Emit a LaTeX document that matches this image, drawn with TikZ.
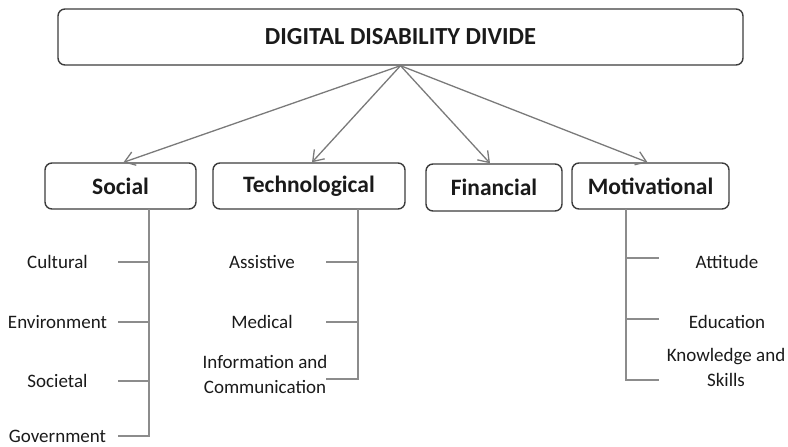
\documentclass[tikz,border=0pt]{standalone}
\usepackage{fontspec}
\setmainfont{Carlito}
\usetikzlibrary{arrows.meta}
\definecolor{boxc}{HTML}{3C3C3C}
\definecolor{linec}{HTML}{8C8C8C}
\definecolor{arrc}{HTML}{7A7A7A}
\definecolor{txtc}{HTML}{1A1A1A}
\begin{document}
\begin{tikzpicture}[x=1pt,y=-1pt,
 box/.style={draw=boxc, line width=1.4pt, rounded corners=7pt, text=txtc,
   font=\bfseries\fontsize{23.5}{26}\selectfont, inner sep=0pt},
 leaf/.style={font=\fontsize{19}{25}\selectfont, align=center, inner sep=0pt, text=txtc},
 tree/.style={draw=linec, line width=1.1pt},
 arr/.style={draw=arrc, line width=1.3pt, -{Straight Barb[length=10pt,width=14pt]}}]
\useasboundingbox (0,0) rectangle (788,447);
% main boxes
\node[box, minimum width=685pt, minimum height=56pt, font=\bfseries\fontsize{24.5}{27}\selectfont] (top) at (400.5,37) {DIGITAL DISABILITY DIVIDE};
\node[box, minimum width=151pt, minimum height=46pt] (social) at (120.5,186) {Social};
\node[box, minimum width=192pt, minimum height=46pt] (tech) at (309,186) {Technological};
\node[box, minimum width=136pt, minimum height=47pt] (fin) at (494,187.5) {Financial};
\node[box, minimum width=157pt, minimum height=46pt] (mot) at (650.5,186) {Motivational};
% arrows
\draw[arr] (top.south) -- ([xshift=3pt]social.north);
\draw[arr] (top.south) -- ([xshift=3pt]tech.north);
\draw[arr] (top.south) -- ([xshift=-4pt]fin.north);
\draw[arr] (top.south) -- ([xshift=-3pt]mot.north);
% social leaves
\node[leaf] (cult) at (57.5,262) {Cultural};
\node[leaf] (env) at (57.5,322) {Environment};
\node[leaf] (soc) at (57.5,381) {Societal};
\node[leaf] (gov) at (57.5,436) {Government};
\coordinate (s0) at (149,209);
\coordinate (s1) at (149,262); \coordinate (s1e) at (118,262);
\coordinate (s2) at (149,322); \coordinate (s2e) at (118,322);
\coordinate (s3) at (149,381); \coordinate (s3e) at (118,381);
\coordinate (s4) at (149,436); \coordinate (s4e) at (118,436);
\draw[tree] (s0) -- (s4) -- (s4e);
\draw[tree] (s1) -- (s1e);
\draw[tree] (s2) -- (s2e);
\draw[tree] (s3) -- (s3e);
% technological leaves
\node[leaf] (assist) at (262,262) {Assistive};
\node[leaf] (med) at (262,322) {Medical};
\node[leaf] (ict) at (265,374) {Information and\\Communication};
\coordinate (t0) at (358,209);
\coordinate (t1) at (358,262); \coordinate (t1e) at (326,262);
\coordinate (t2) at (358,322); \coordinate (t2e) at (326,322);
\coordinate (t3) at (358,379); \coordinate (t3e) at (326,379);
\draw[tree] (t0) -- (t3) -- (t3e);
\draw[tree] (t1) -- (t1e);
\draw[tree] (t2) -- (t2e);
% motivational leaves
\node[leaf] (att) at (727,262) {Attitude};
\node[leaf] (edu) at (727,322) {Education};
\node[leaf] (know) at (726,367) {Knowledge and\\Skills};
\coordinate (m0) at (626,209);
\coordinate (m1) at (626,258); \coordinate (m1e) at (659,258);
\coordinate (m2) at (626,319); \coordinate (m2e) at (659,319);
\coordinate (m3) at (626,380); \coordinate (m3e) at (659,380);
\draw[tree] (m0) -- (m3) -- (m3e);
\draw[tree] (m1) -- (m1e);
\draw[tree] (m2) -- (m2e);
\end{tikzpicture}
\end{document}
